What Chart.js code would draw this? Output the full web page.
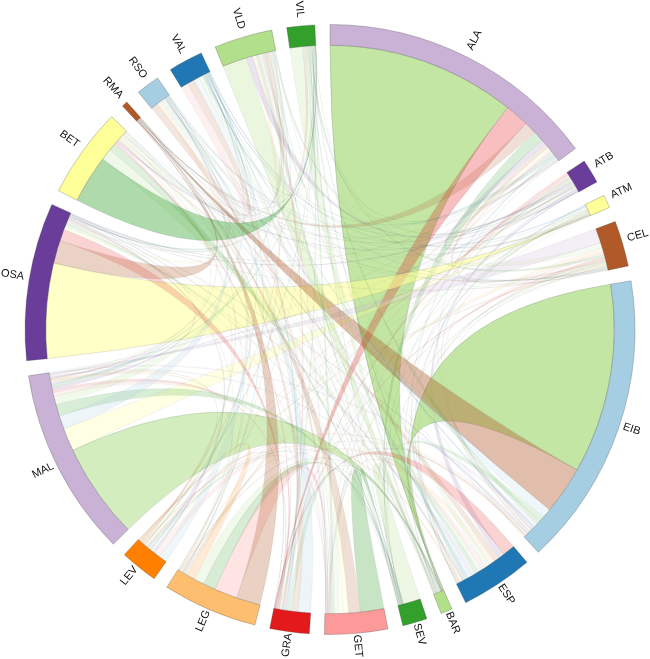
<!DOCTYPE html>
<html><head><meta charset="utf-8">
<style>html,body{margin:0;padding:0;background:#fff}#w{width:650px;height:659px}</style>
<script src="https://cdn.jsdelivr.net/npm/chart.js@4"></script></head>
<body><div id="w"><canvas id="c" width="650" height="659"></canvas></div>
<script>
const teams = ['ALA','ATB','ATM','CEL','EIB','ESP','BAR','SEV','GET','GRA','LEG','LEV','MAL','OSA','BET','RMA','RSO','VAL','VLD','VIL'];
const palette = ['#cab2d6','#6a3d9a','#ffff99','#b15928','#a6cee3','#1f78b4','#b2df8a','#33a02c','#fb9a99','#e31a1c','#fdbf6f','#ff7f00','#cab2d6','#6a3d9a','#ffff99','#b15928','#a6cee3','#1f78b4','#b2df8a','#33a02c'];
// Each row: ribbon width on that team's arc towards each team, in the order of `teams`.
const ALA = [0,1.1,.55,.9,.1,.25,38.7,2.2,.4,4.9,.25,.3,.2,.15,.1,2.4,.3,.3,.2,.3];
const ATB = [.1,0,.2,.3,.2,.1,.1,.3,.4,.6,.3,.25,.25,.3,.08,.3,.2,.3,.1,.22];
const ATM = [.08,.15,0,.2,.2,.25,.05,.15,.12,.12,.12,.12,.1,.06,.12,.1,.18,.25,.08,.05];
const CEL = [.1,.25,.2,0,.15,.35,.15,.25,.5,.4,.9,.2,3.0,.1,.2,.15,.15,.15,1.0,.5];
const EIB = [.3,.3,.3,.25,0,.25,38.8,1.1,.2,.15,.2,.15,.6,.25,.1,9.8,1.9,.4,.15,.9];
const ESP = [.1,1.2,.15,.35,.5,0,.8,.8,.9,2.5,1.1,.3,.6,.4,.4,1.2,.5,.5,1.0,.5];
const BAR = [.15,.1,.15,.1,.15,.08,0,.1,.1,.1,.12,.12,.15,.12,.12,.08,.12,.12,.1,.12];
const SEV = [.07,.06,.05,.07,.06,.08,3.5,0,.07,.07,.08,.06,.1,.07,.07,.05,.06,.06,.05,.07];
const GET = [.05,.1,.9,.1,.1,.1,.9,4.8,0,.15,.1,.1,.1,.1,1.1,2.4,.15,.1,.1,.55];
const GRA = [.08,.12,.2,.1,.1,.08,.2,.9,.25,0,.12,.15,.15,.08,.2,1.2,2.6,.5,.25,.22];
const LEG = [.1,.2,.2,.15,.15,.15,2.1,2.6,4.7,.2,0,1.7,.1,.1,.2,4.9,.15,.2,.1,.1];
const LEV = [.13,.15,.4,.12,.1,.25,.3,.3,1.2,.3,.15,0,.2,.5,.3,.25,1.7,.35,.2,.3];
const MAL = [.1,.25,4.7,.2,.2,.25,19.6,2.4,.8,.6,.3,.3,0,.5,.25,.3,2.7,.4,1.7,.45];
const OSA = [.1,.15,19.4,.15,.1,.15,.5,.3,.2,2.4,.2,.2,.2,0,.6,4.7,.1,.15,.3,.2];
const BET = [.1,.4,.2,.15,.1,.2,2.4,1.5,.15,.5,.25,.2,.2,.15,0,.3,.15,.2,.25,9.8];
const RMA = [.05,.05,.05,.05,.1,.05,.03,.05,.08,.05,.12,.05,.05,.1,.05,0,.06,.03,.06,.02];
const RSO = [.08,.08,.06,.07,.08,.1,.4,.08,.08,.1,.7,.1,.1,.1,.1,1.5,0,.35,.3,.12];
const VAL = [.08,.1,.08,.1,.1,.12,.7,.1,1.5,.12,.1,.12,.12,.1,.1,1.5,1.1,0,.2,.26];
const VLD = [.1,1.3,.1,.1,.1,.2,5.0,.6,.6,.3,.7,.2,.2,.15,.2,.35,.2,.2,0,.5];
const VIL = [.1,.05,.1,.1,.1,.2,2.6,.3,.35,.15,.1,.1,.1,.1,.05,.5,.1,.1,.1,0];
const matrix = [ALA,ATB,ATM,CEL,EIB,ESP,BAR,SEV,GET,GRA,LEG,LEV,MAL,OSA,BET,RMA,RSO,VAL,VLD,VIL];
const GAP = 2.855;

const totals = matrix.map(r => r.reduce((a,b)=>a+b,0));
const ringData = [], ringLabels = [], ringFill = [], ringBorder = [], ringBW = [];
teams.forEach((t,i)=>{
  ringData.push(totals[i], GAP); ringLabels.push(t, '');
  ringFill.push(palette[i], 'rgba(0,0,0,0)');
  ringBorder.push('rgba(60,60,60,.45)', 'rgba(0,0,0,0)');
  ringBW.push(.6, 0);
});
function rgba(hex,a){const n=parseInt(hex.slice(1),16);return `rgba(${n>>16},${(n>>8)&255},${n&255},${a})`;}

const chordPlugin = {
  id:'chord',
  beforeDatasetsDraw(chart){
    const arcs = chart.getDatasetMeta(0).data, ctx = chart.ctx;
    const first = arcs[0], cx = first.x, cy = first.y, r = first.innerRadius;
    const sub = matrix.map((row,i)=>{
      const el = arcs[i*2]; let a = el.startAngle;
      const k = (el.endAngle-el.startAngle)/totals[i];
      const res = {};
      row.map((v,j)=>[v,j]).filter(p=>p[1]!==i).sort((p,q)=>q[0]-p[0]).forEach(([v,j])=>{res[j]=[a,a+v*k];a+=v*k;});
      return res;
    });
    ctx.save();
    const ribbon=(i,j)=>{
      const [a0,a1]=sub[i][j],[b0,b1]=sub[j][i];
      const wi=matrix[i][j],wj=matrix[j][i],w=Math.max(wi,wj);
      const col=palette[wi>wj?j:i];
      const alpha=Math.max(.13,.125*Math.sqrt(w));
      ctx.beginPath();
      ctx.arc(cx,cy,r,a0,a1);
      ctx.quadraticCurveTo(cx,cy,cx+r*Math.cos(b0),cy+r*Math.sin(b0));
      ctx.arc(cx,cy,r,b0,b1);
      ctx.quadraticCurveTo(cx,cy,cx+r*Math.cos(a0),cy+r*Math.sin(a0));
      ctx.closePath();
      ctx.fillStyle=rgba(col,alpha);
      ctx.fill();
      ctx.lineWidth=.5;
      ctx.strokeStyle=`rgba(70,80,90,${alpha*.5})`;
      ctx.stroke();
    };
    for(let i=0;i<teams.length;i++)for(let j=i+1;j<teams.length;j++)ribbon(i,j);
    ctx.restore();
  },
  afterDatasetsDraw(chart){
    const arcs = chart.getDatasetMeta(0).data, ctx = chart.ctx;
    ctx.save();
    ctx.font='11px "Liberation Sans"';ctx.fillStyle='#111';ctx.textBaseline='middle';
    teams.forEach((t,i)=>{
      const el=arcs[i*2],m=(el.startAngle+el.endAngle)/2,R=el.outerRadius+5;
      const deg=(m+Math.PI/2)*180/Math.PI;
      ctx.save();
      ctx.translate(el.x+R*Math.cos(m),el.y+R*Math.sin(m)-3.5);
      if(deg<180){ctx.rotate(m);ctx.textAlign='left';}
      else{ctx.rotate(m+Math.PI);ctx.textAlign='right';}
      ctx.fillText(t,0,0);
      ctx.restore();
    });
    ctx.restore();
  }
};

new Chart(document.getElementById('c'),{
  type:'doughnut',
  data:{labels:ringLabels,datasets:[{data:ringData,backgroundColor:ringFill,borderColor:ringBorder,borderWidth:ringBW,borderAlign:'center',radius:305,hoverOffset:0}]},
  options:{responsive:false,animation:false,cutout:'93.2%',rotation:0,layout:{padding:{left:10}},
    plugins:{legend:{display:false},tooltip:{enabled:false}}},
  plugins:[chordPlugin]
});
</script></body></html>
